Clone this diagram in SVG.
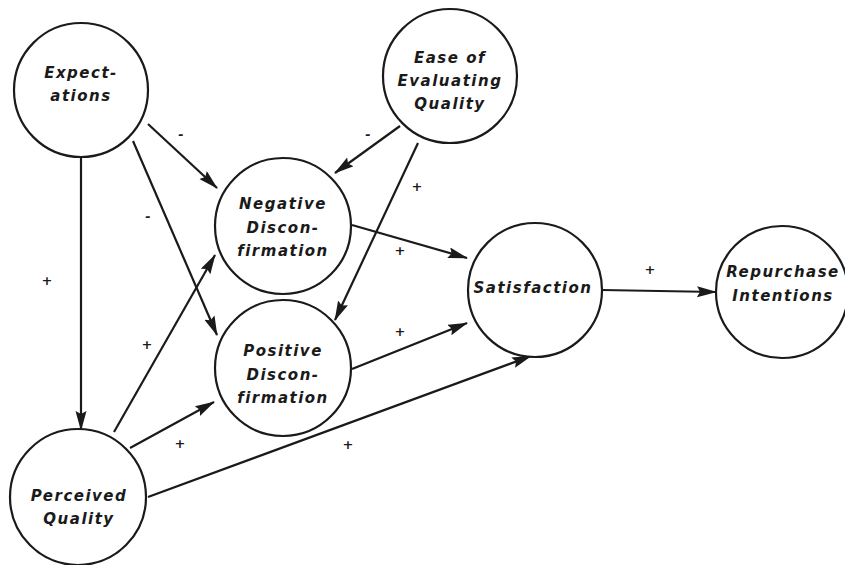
<svg xmlns="http://www.w3.org/2000/svg" width="845" height="565" viewBox="0 0 845 565">
<style>
.node circle{fill:#fff;stroke:#1a1a1a;stroke-width:2.2}
.node text,.lbl{font-family:"DejaVu Sans",sans-serif;font-weight:bold;font-style:italic;font-size:15px;fill:#1a1a1a;text-anchor:middle;letter-spacing:1.5px}
.lbl{font-size:13px;letter-spacing:0}
#edges line{stroke:#1a1a1a;stroke-width:2.2;marker-end:url(#ah)}
</style>
<defs>
<marker id="ah" markerUnits="userSpaceOnUse" markerWidth="22" markerHeight="12" refX="19" refY="5.5" orient="auto">
<path d="M0,0 L20,5.5 L0,11 L3,5.5 Z" fill="#1a1a1a"/>
</marker>
</defs>
<rect width="845" height="565" fill="#fff"/>
<g id="edges">
<line x1="81" y1="157" x2="81" y2="430"/>
<line x1="148" y1="124" x2="217" y2="188"/>
<line x1="133" y1="141" x2="217" y2="335"/>
<line x1="400" y1="126" x2="335" y2="173"/>
<line x1="418" y1="143" x2="335" y2="320"/>
<line x1="352" y1="225" x2="467" y2="258"/>
<line x1="352" y1="369" x2="467" y2="323"/>
<line x1="114" y1="432" x2="215" y2="255"/>
<line x1="130" y1="448" x2="214" y2="402"/>
<line x1="148" y1="497" x2="531" y2="356"/>
<line x1="602" y1="290" x2="716" y2="292"/>
</g>
<g id="signs">
<text class="lbl" x="181" y="139">-</text>
<text class="lbl" x="368" y="139">-</text>
<text class="lbl" x="148" y="221">-</text>
<text class="lbl" x="417" y="191">+</text>
<text class="lbl" x="400" y="255">+</text>
<text class="lbl" x="47" y="285">+</text>
<text class="lbl" x="147" y="349">+</text>
<text class="lbl" x="400" y="336">+</text>
<text class="lbl" x="180" y="448">+</text>
<text class="lbl" x="348" y="449">+</text>
<text class="lbl" x="650" y="274">+</text>
</g>
<g id="expectations" class="node">
<circle cx="81" cy="90" r="67"/>
<text x="81" y="78">Expect-</text>
<text x="81" y="101">ations</text>
</g>
<g id="ease" class="node">
<circle cx="450" cy="76" r="67"/>
<text x="450" y="63">Ease of</text>
<text x="450" y="86">Evaluating</text>
<text x="450" y="109">Quality</text>
</g>
<g id="negative" class="node">
<circle cx="283" cy="226" r="68"/>
<text x="283" y="209">Negative</text>
<text x="283" y="233">Discon-</text>
<text x="283" y="256">firmation</text>
</g>
<g id="positive" class="node">
<circle cx="283" cy="368" r="68"/>
<text x="283" y="356">Positive</text>
<text x="283" y="380">Discon-</text>
<text x="283" y="403">firmation</text>
</g>
<g id="perceived" class="node">
<circle cx="78" cy="497" r="68"/>
<text x="79" y="501">Perceived</text>
<text x="79" y="524">Quality</text>
</g>
<g id="satisfaction" class="node">
<circle cx="535" cy="290" r="67"/>
<text x="533" y="293">Satisfaction</text>
</g>
<g id="repurchase" class="node">
<circle cx="782" cy="292" r="66"/>
<text x="783" y="277">Repurchase</text>
<text x="783" y="301">Intentions</text>
</g>
</svg>
